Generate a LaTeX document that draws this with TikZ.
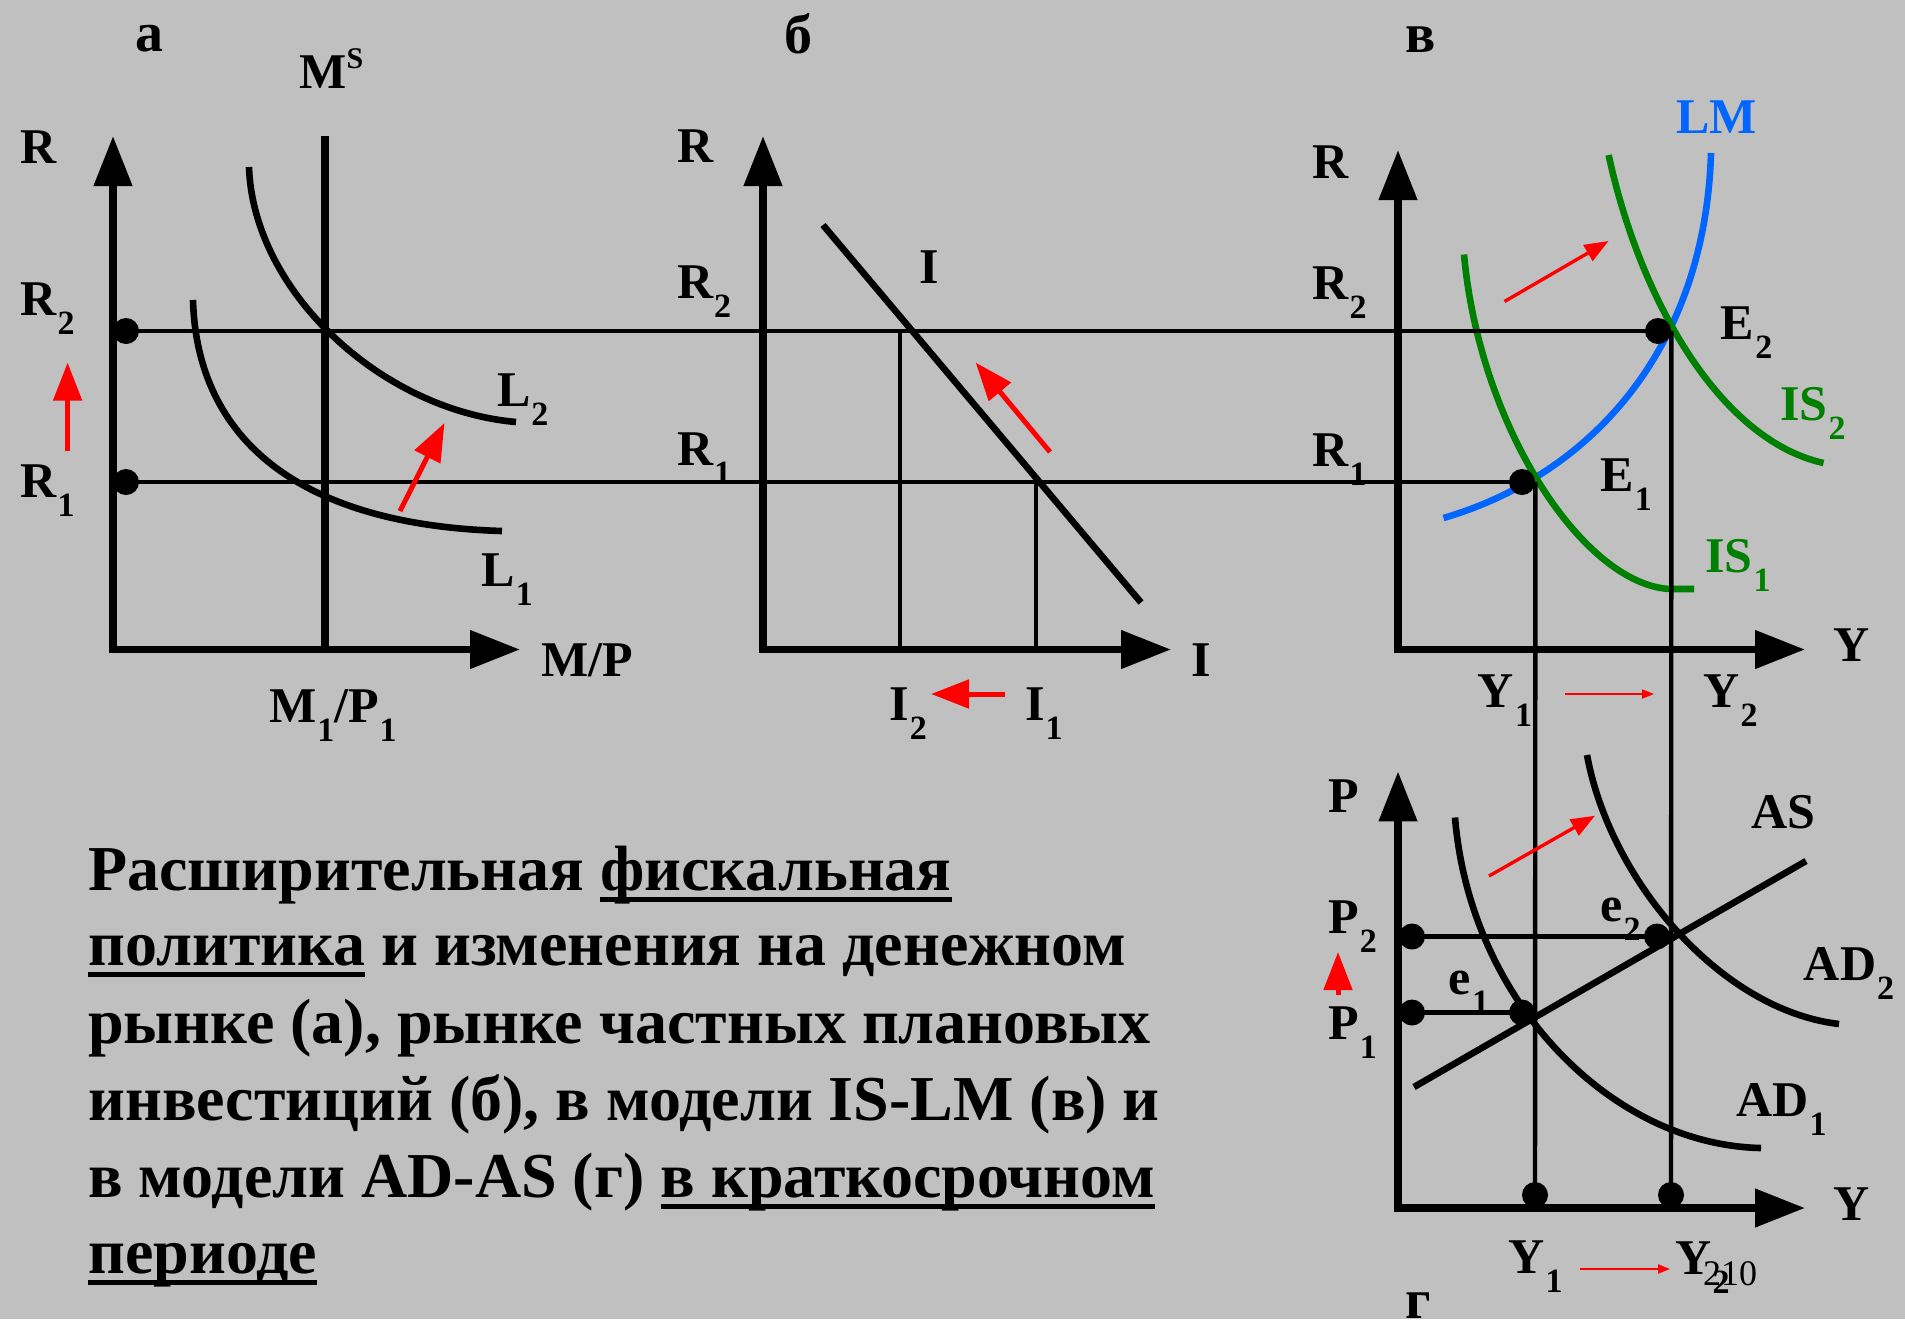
\documentclass[tikz,border=0pt]{standalone}
\usepackage{fontspec}
\setmainfont{Liberation Serif}
\usetikzlibrary{arrows.meta}

\definecolor{slide}{RGB}{192,192,192}
\definecolor{lmblue}{RGB}{0,102,255}
\definecolor{isgreen}{RGB}{0,128,0}

\newcommand{\lowidx}[1]{\kern0.5pt\raisebox{-9.5pt}{\fontsize{17}{17}\selectfont #1}}
\newcommand{\upidx}[1]{\raisebox{10pt}{\fontsize{15}{15}\selectfont #1}}
\newcommand{\uln}[1]{\setbox0\hbox{#1}\rlap{\rule[-5.85pt]{\wd0}{2.5pt}}\box0\relax}

\begin{document}
\begin{tikzpicture}[x=0.5pt, y=-0.5pt,
        axis/.style={line width=3.8pt, {Triangle[length=25pt,width=18.5pt]}-{Triangle[length=25pt,width=18.5pt]}},
        curve/.style={line width=3.3pt},
        guide/.style={line width=2.2pt},
        dot/.style={circle, fill=black, inner sep=0pt, minimum size=13pt},
        redarrow/.style={red, line width=2.5pt, -{Triangle[length=19pt,width=14pt]}},
        redthin/.style={red, line width=1.7pt, -{Triangle[length=12pt,width=9pt]}},
        redhair/.style={red, line width=1pt, -{Triangle[length=6pt,width=4.5pt]}},
        lbl/.style={anchor=base west, inner sep=0pt, font=\bfseries\fontsize{25}{25}\selectfont},
        panel/.style={lbl, font=\bfseries\fontsize{28}{28}\selectfont},
        caption/.style={anchor=base west, inner sep=0pt, font=\bfseries\fontsize{32}{32}\selectfont}
    ]
    \useasboundingbox (0,0) rectangle (1905,1319);
    \fill[slide] (0,0) rectangle (1905,1319);

    % a: money market
    \draw[axis] (113,136) -- (113,649.5) -- (520,649.5);
    \draw[line width=3.7pt] (325,136) -- (325,649.5);
    \draw[curve] (249,167) .. controls (253,290) and (380,410) .. (516,422);
    \draw[curve] (193,300) .. controls (197,440) and (300,525) .. (502,531);
    \node[dot] (aR2) at (126,331) {};
    \node[dot] (aR1) at (126,482) {};

    % b: investment
    \draw[axis] (763,136) -- (763,649.5) -- (1171,649.5);
    \draw[curve] (823,225) -- (1141,602.5);
    \draw[guide] (900,331) -- (900,649.5);
    \draw[guide] (1036,482) -- (1036,649.5);

    % v: IS-LM
    \draw[axis] (1398,150) -- (1398,649.5) -- (1805,649.5);
    \draw[curve, lmblue] (1443.5,518) .. controls (1590,475) and (1705,350) .. (1711,153);
    \draw[curve, isgreen] (1464,254.5) .. controls (1480,430) and (1585,585) .. (1670,589) -- (1694,589);
    \draw[curve, isgreen] (1608.6,155) .. controls (1640,300) and (1720,440) .. (1823.5,463);
    \node[dot] (E2) at (1658,331) {};
    \node[dot] (E1) at (1522,482) {};

    % g: AD-AS
    \draw[axis] (1398,771.4) -- (1398,1208) -- (1805,1208);
    \draw[curve] (1414,1087) -- (1806,861);
    \draw[curve] (1455,817.5) .. controls (1470,1000) and (1610,1145) .. (1761,1148);
    \draw[curve] (1587,755) .. controls (1610,880) and (1720,1010) .. (1839,1024);
    \node[dot] (P2) at (1412,936.5) {};
    \node[dot] (P1) at (1412,1012.5) {};
    \node[dot] (e2) at (1657,936.5) {};
    \node[dot] (e1) at (1522,1012.5) {};
    \node[dot] (Y1) at (1535,1195) {};
    \node[dot] (Y2) at (1671,1195) {};

    % guide lines across the panels
    \draw[guide] (aR2.center) -- (E2.center);
    \draw[guide] (aR1.center) -- (E1.center);
    \draw[guide] (E1.east) -- (Y1.center);
    \draw[guide] (E2.east) -- (Y2.center);
    \draw[guide] (P2.center) -- (e2.center);
    \draw[guide] (P1.center) -- (e1.center);

    % shifts
    \draw[redarrow] (400,511) -- (444.5,423);
    \draw[redarrow] (67.6,451) -- (67.6,362.6);
    \draw[redarrow] (1050,452) -- (975.7,362.6);
    \draw[redarrow] (1005,694) -- (931,694);
    \draw[redarrow] (1338,994.8) -- (1338,952);
    \draw[redthin] (1504.5,301.5) -- (1608.6,241);
    \draw[redthin] (1489,876) -- (1595,815.7);
    \draw[redhair] (1564.7,694) -- (1654,694);
    \draw[redhair] (1579.7,1269) -- (1670,1269);

    % labels
    \node[panel] (pa) at (134.7,51) {а};
    \node[lbl] (ms) at (299,88) {M\upidx{S}};
    \node[lbl] (aR) at (20,163) {R};
    \node[lbl] (aR2l) at (20,315) {R\lowidx{2}};
    \node[lbl] (aR1l) at (20,497) {R\lowidx{1}};
    \node[lbl] (L2) at (496.7,406) {L\lowidx{2}};
    \node[lbl] (L1) at (481,586.5) {L\lowidx{1}};
    \node[lbl] (mp) at (541,676) {M/P};
    \node[lbl] (m1p1) at (268.7,722) {M\lowidx{1}/P\lowidx{1}};

    \node[panel] (pb) at (783.8,53.3) {б};
    \node[lbl] (bR) at (676.6,162.4) {R};
    \node[lbl] (bR2l) at (676.6,298) {R\lowidx{2}};
    \node[lbl] (bR1l) at (676.6,465) {R\lowidx{1}};
    \node[lbl] (Il) at (919,283.6) {I};
    \node[lbl] (Iax) at (1191,676) {I};
    \node[lbl] (I2) at (889,720) {I\lowidx{2}};
    \node[lbl] (I1) at (1024.8,720) {I\lowidx{1}};

    \node[panel] (pv) at (1405,52.4) {в};
    \node[lbl] (vR) at (1312,178.4) {R};
    \node[lbl] (vR2l) at (1312,299) {R\lowidx{2}};
    \node[lbl] (vR1l) at (1312,466) {R\lowidx{1}};
    \node[lbl, lmblue] (LM) at (1676,133.3) {LM};
    \node[lbl] (E2l) at (1720.5,339.3) {E\lowidx{2}};
    \node[lbl] (E1l) at (1600,491) {E\lowidx{1}};
    \node[lbl, isgreen] (IS2) at (1780,420.7) {IS\lowidx{2}};
    \node[lbl, isgreen] (IS1) at (1705,572) {IS\lowidx{1}};
    \node[lbl] (vY) at (1833,661.7) {Y};
    \node[lbl] (vY1) at (1477.5,707.7) {Y\lowidx{1}};
    \node[lbl] (vY2) at (1703,707.7) {Y\lowidx{2}};

    \node[lbl] (gP) at (1327.8,812) {P};
    \node[lbl] (gP2) at (1327.8,933.9) {P\lowidx{2}};
    \node[lbl] (gP1) at (1327.8,1039) {P\lowidx{1}};
    \node[lbl] (AS) at (1750.6,828.6) {AS};
    \node[lbl] (e2l) at (1600,921) {e\lowidx{2}};
    \node[lbl] (e1l) at (1448.5,994.8) {e\lowidx{1}};
    \node[lbl] (AD2) at (1803.5,980) {AD\lowidx{2}};
    \node[lbl] (AD1) at (1736,1116) {AD\lowidx{1}};
    \node[lbl] (gY) at (1833,1220) {Y};
    \node[lbl] (gY1) at (1508,1273.6) {Y\lowidx{1}};
    \node[lbl] (gY2) at (1675,1274) {Y\lowidx{2}};
    \node[anchor=base west, inner sep=0pt, font=\fontsize{18}{18}\selectfont] (num) at (1702.7,1285) {210};
    \node[panel] (pg) at (1405,1318) {г};

    % caption
    \node[caption] (cap1) at (88,890) {Расширительная \uln{фискальная}};
    \node[caption] (cap2) at (88,965) {\uln{политика} и изменения на денежном};
    \node[caption] (cap3) at (88,1043) {рынке (а), рынке частных плановых};
    \node[caption] (cap4) at (88,1120) {инвестиций (б), в модели IS-LM (в) и};
    \node[caption] (cap5) at (88,1197) {в модели AD-AS (г) \uln{в краткосрочном}};
    \node[caption] (cap6) at (88,1273) {\uln{периоде}};
\end{tikzpicture}
\end{document}
